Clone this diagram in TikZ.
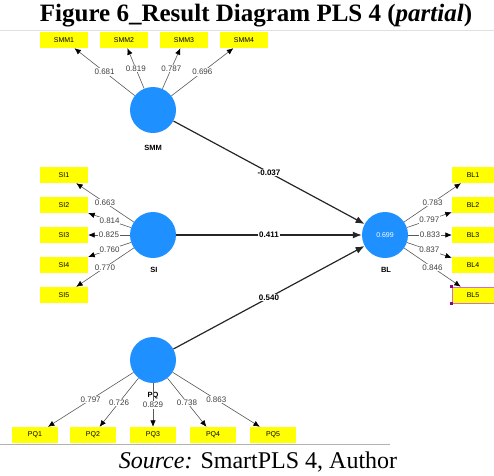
\documentclass[tikz,border=0pt]{standalone}
\usepackage{fontspec}
\setmainfont{Liberation Serif}
\newfontfamily\plsfont{Liberation Sans}
\usetikzlibrary{arrows.meta}
\definecolor{lvblue}{HTML}{1E90FF}
\definecolor{indyellow}{HTML}{FFFF00}
\definecolor{selpink}{HTML}{D070C8}
\definecolor{selhandle}{HTML}{8B008B}

\begin{document}
\begin{tikzpicture}[x=1pt, y=-1pt,
    ind/.style={rectangle, fill=indyellow, minimum width=48pt, minimum height=16pt,
                inner sep=0pt, font=\plsfont\fontsize{7}{8}\selectfont},
    lv/.style={circle, fill=lvblue, minimum size=46pt, inner sep=0pt,
               text=white, font=\plsfont\fontsize{7}{8}\selectfont},
    lvname/.style={font=\plsfont\bfseries\fontsize{7.5}{9}\selectfont},
    load/.style={-{Latex[length=6.5pt,width=5.5pt,color=black]}, draw=black!65, line width=0.6pt},
    inner/.style={-{Latex[length=9pt,width=7pt]}, draw=black!85, line width=1.2pt},
    wt/.style={fill=white, inner sep=0.8pt, text=black!75, font=\plsfont\fontsize{8}{9}\selectfont},
    coef/.style={fill=white, inner sep=0.8pt, font=\plsfont\bfseries\fontsize{8}{9}\selectfont}]
    \useasboundingbox (0,0) rectangle (494,475);

    % title, frame lines and source
    \node[anchor=base, font=\bfseries\fontsize{25}{27}\selectfont] (title) at (256,21)
        {Figure 6\_Result Diagram PLS 4 (\textit{partial})};
    \draw[black!12, line width=0.6pt] (0,30) -- (494,30);
    \draw[black!30, line width=0.8pt] (0,444) -- (390,444);
    \node[anchor=base, font=\fontsize{24}{26}\selectfont] (source) at (258,468)
        {\textit{Source:} SmartPLS 4, Author};

    % latent variables
    \node[lv] (smm) at (153,110) {};
    \node[lv] (si)  at (153,235) {};
    \node[lv] (pq)  at (153,360) {};
    \node[lv] (bl)  at (385,235) {0.699};
    \node[lvname] at (153,148) {SMM};
    \node[lvname] at (154,270) {SI};
    \node[lvname] at (153,396) {PQ};
    \node[lvname] at (386,270) {BL};

    % indicators
    \node[ind] (smm1) at (64,40)  {SMM1};
    \node[ind] (smm2) at (124,40) {SMM2};
    \node[ind] (smm3) at (184,40) {SMM3};
    \node[ind] (smm4) at (244,40) {SMM4};
    \node[ind] (si1) at (64,175) {SI1};
    \node[ind] (si2) at (64,205) {SI2};
    \node[ind] (si3) at (64,235) {SI3};
    \node[ind] (si4) at (64,265) {SI4};
    \node[ind] (si5) at (64,295) {SI5};
    \node[ind, minimum width=46pt] (pq1) at (35,435)  {PQ1};
    \node[ind, minimum width=46pt] (pq2) at (93,435)  {PQ2};
    \node[ind, minimum width=46pt] (pq3) at (153,435) {PQ3};
    \node[ind, minimum width=46pt] (pq4) at (213,435) {PQ4};
    \node[ind, minimum width=46pt] (pq5) at (273,435) {PQ5};
    \node[ind, minimum width=42pt] (bl1) at (473,175) {BL1};
    \node[ind, minimum width=42pt] (bl2) at (473,205) {BL2};
    \node[ind, minimum width=42pt] (bl3) at (473,235) {BL3};
    \node[ind, minimum width=42pt] (bl4) at (473,265) {BL4};
    \node[ind, minimum width=42pt, draw=selpink, line width=0.7pt] (bl5) at (473,295) {BL5};
    \fill[selhandle] ([xshift=-1.5pt, yshift=-1.5pt]bl5.north west) rectangle +(3pt,3pt);
    \fill[selhandle] ([xshift=-1.5pt, yshift=-1.5pt]bl5.south west) rectangle +(3pt,3pt);

    % outer loadings
    \draw[load] (smm) -- node[wt]{0.681} (smm1);
    \draw[load] (smm) -- node[wt]{0.819} (smm2);
    \draw[load] (smm) -- node[wt]{0.787} (smm3);
    \draw[load] (smm) -- node[wt]{0.696} (smm4);
    \draw[load] (si) -- node[wt]{0.663} (si1);
    \draw[load] (si) -- node[wt]{0.814} (si2);
    \draw[load] (si) -- node[wt]{0.825} (si3);
    \draw[load] (si) -- node[wt]{0.760} (si4);
    \draw[load] (si) -- node[wt]{0.770} (si5);
    \draw[load] (pq) -- node[wt]{0.797} (pq1);
    \draw[load] (pq) -- node[wt]{0.726} (pq2);
    \draw[load] (pq) -- node[wt]{0.829} (pq3);
    \draw[load] (pq) -- node[wt]{0.738} (pq4);
    \draw[load] (pq) -- node[wt]{0.863} (pq5);
    \draw[load] (bl) -- node[wt]{0.783} (bl1);
    \draw[load] (bl) -- node[wt]{0.797} (bl2);
    \draw[load] (bl) -- node[wt]{0.833} (bl3);
    \draw[load] (bl) -- node[wt]{0.837} (bl4);
    \draw[load] (bl) -- node[wt]{0.846} (bl5);

    % path coefficients
    \draw[inner] (smm) -- node[coef]{-0.037} (bl);
    \draw[inner] (si)  -- node[coef]{0.411} (bl);
    \draw[inner] (pq)  -- node[coef]{0.540} (bl);
\end{tikzpicture}
\end{document}
